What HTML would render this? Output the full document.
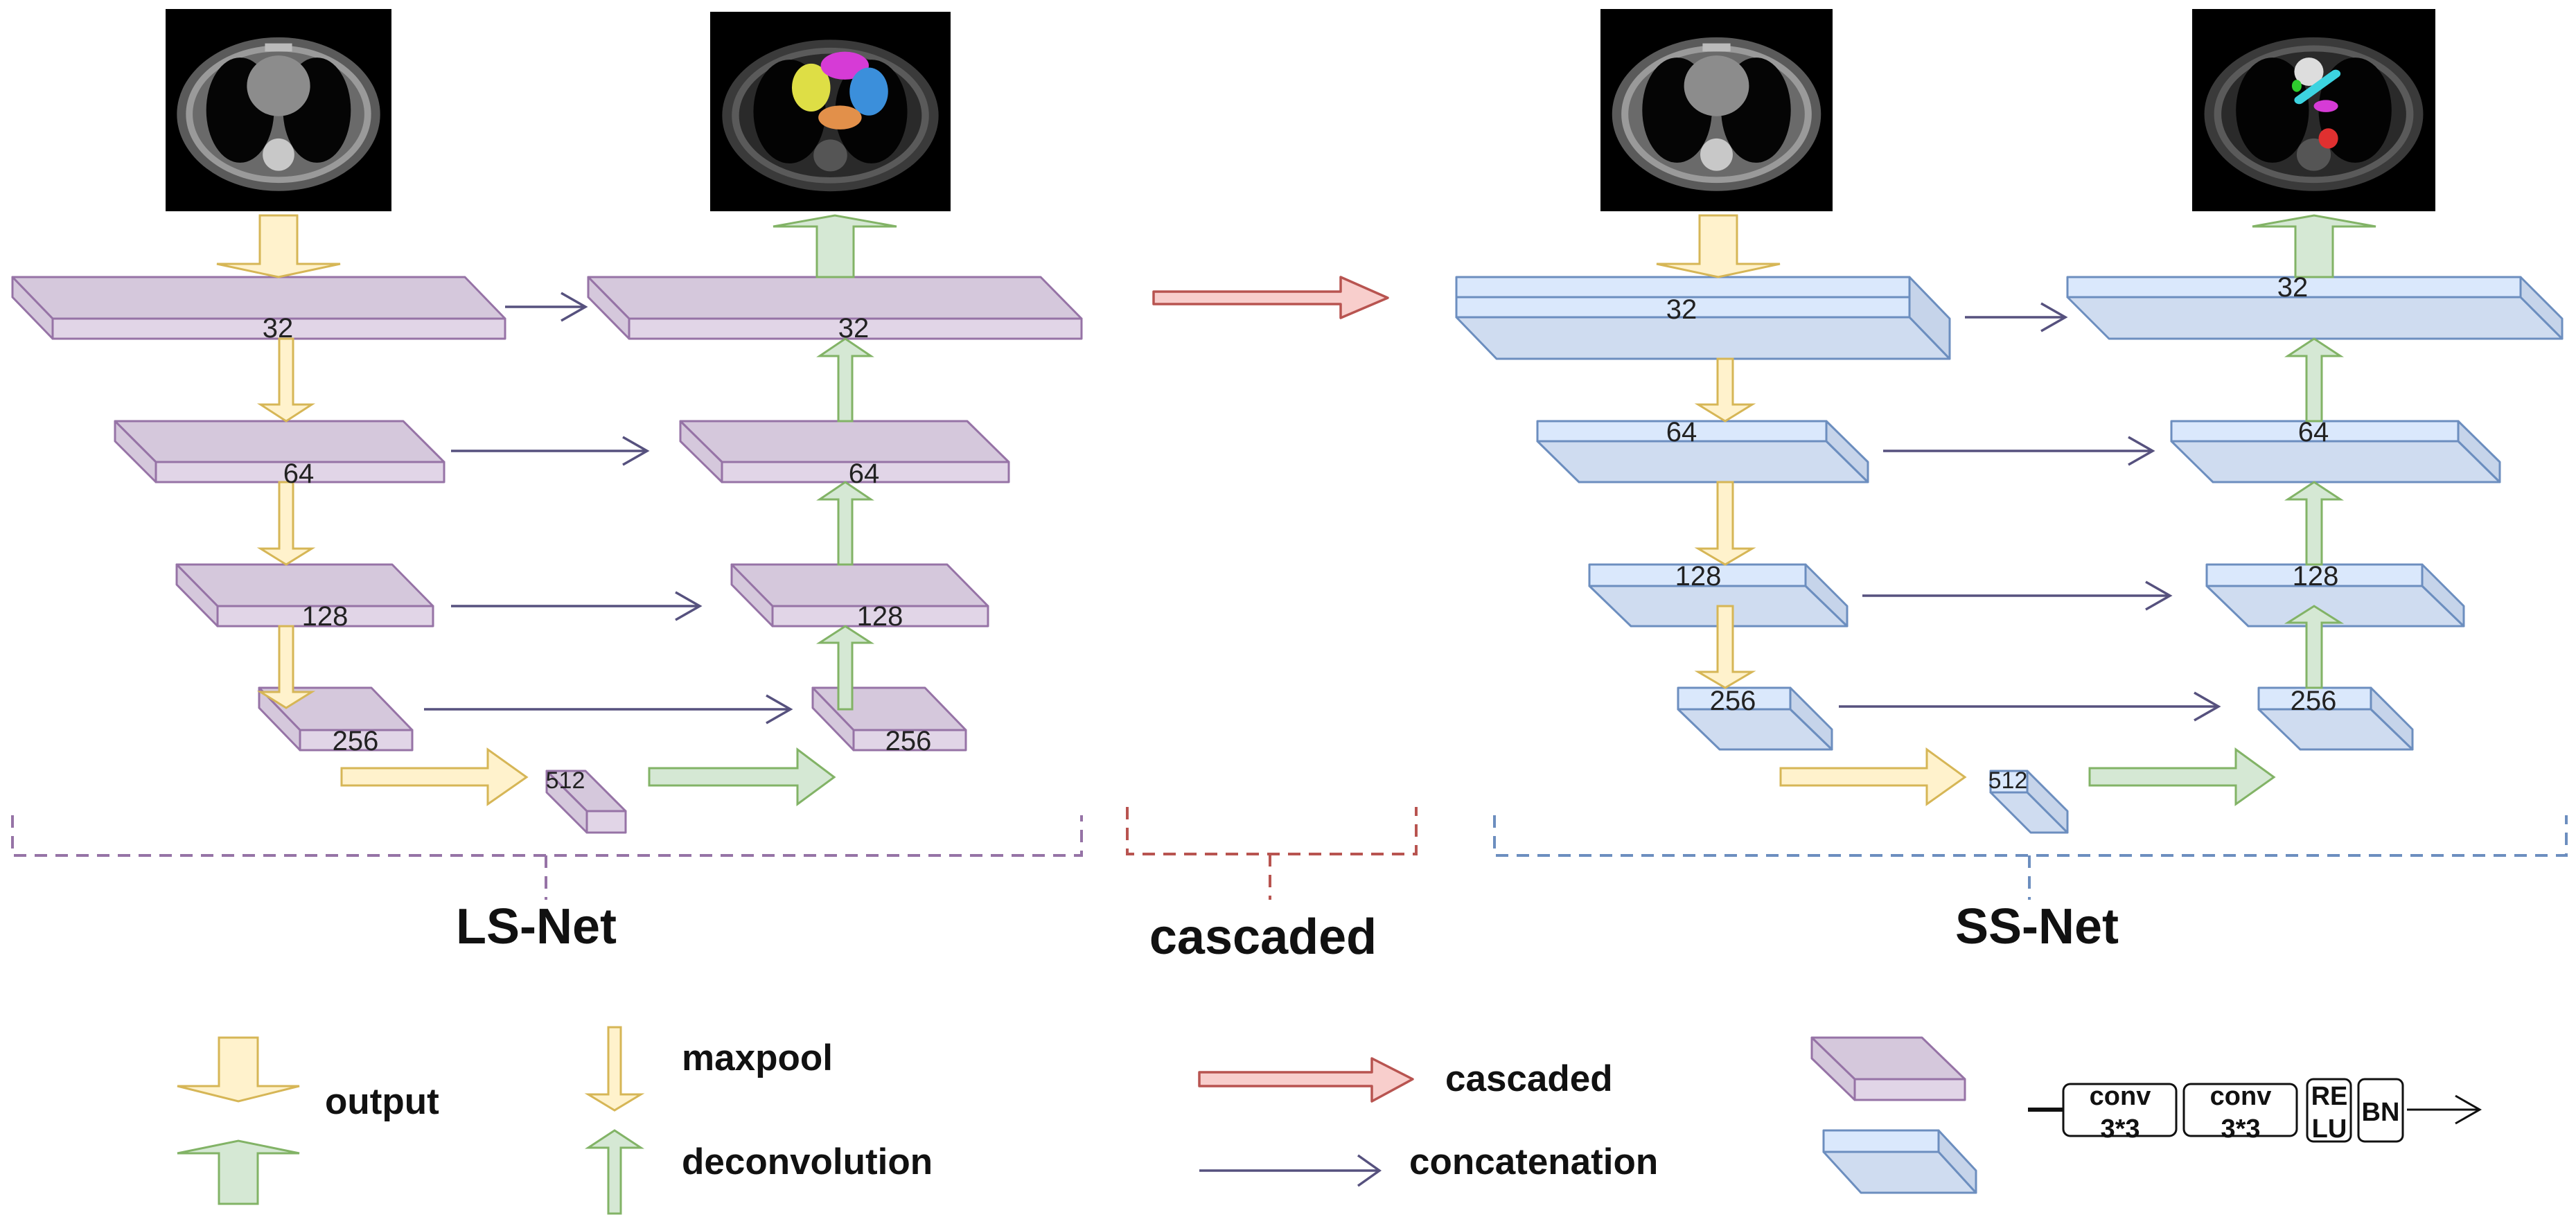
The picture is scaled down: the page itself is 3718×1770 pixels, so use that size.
<!DOCTYPE html>
<html><head><meta charset="utf-8"><style>
html,body{margin:0;padding:0;background:#fff;}
svg{display:block;}
text{font-family:"Liberation Sans",Arial,sans-serif;}
</style></head><body>
<svg width="3718" height="1770" viewBox="0 0 3718 1770" xmlns="http://www.w3.org/2000/svg">
<defs>
<g id="ct">
  <rect x="0" y="0" width="100" height="100" fill="#000"/>
  <ellipse cx="50" cy="52" rx="45" ry="38" fill="#5a5a5a"/>
  <ellipse cx="50" cy="52" rx="41" ry="34" fill="#9a9a9a"/>
  <ellipse cx="50" cy="52" rx="38" ry="31" fill="#6a6a6a"/>
  <ellipse cx="33" cy="50" rx="15" ry="26" fill="#050505"/>
  <ellipse cx="67" cy="50" rx="15" ry="26" fill="#050505"/>
  <ellipse cx="50" cy="38" rx="14" ry="15" fill="#8c8c8c"/>
  <ellipse cx="50" cy="72" rx="7" ry="8" fill="#c8c8c8"/>
  <rect x="44" y="17" width="12" height="4" fill="#bbb"/>
</g>
<g id="ctd">
  <rect x="0" y="0" width="100" height="100" fill="#000"/>
  <ellipse cx="50" cy="52" rx="45" ry="38" fill="#3a3a3a"/>
  <ellipse cx="50" cy="52" rx="41" ry="34" fill="#5a5a5a"/>
  <ellipse cx="50" cy="52" rx="38" ry="31" fill="#2a2a2a"/>
  <ellipse cx="33" cy="50" rx="15" ry="26" fill="#030303"/>
  <ellipse cx="67" cy="50" rx="15" ry="26" fill="#030303"/>
  <ellipse cx="50" cy="72" rx="7" ry="8" fill="#555"/>
</g>
</defs>

<!-- CT images -->
<svg x="239" y="13" width="326" height="292" viewBox="0 0 100 100" preserveAspectRatio="none"><use href="#ct"/></svg>
<svg x="1025" y="17" width="347" height="288" viewBox="0 0 100 100" preserveAspectRatio="none"><use href="#ctd"/>
  <ellipse cx="42" cy="38" rx="8" ry="12" fill="#dede45"/>
  <ellipse cx="56" cy="27" rx="10" ry="7" fill="#d63bd6"/>
  <ellipse cx="66" cy="40" rx="8" ry="12" fill="#3b8fdb"/>
  <ellipse cx="54" cy="53" rx="9" ry="6" fill="#e2904a"/>
</svg>
<svg x="2310" y="13" width="335" height="292" viewBox="0 0 100 100" preserveAspectRatio="none"><use href="#ct"/></svg>
<svg x="3164" y="13" width="351" height="292" viewBox="0 0 100 100" preserveAspectRatio="none"><use href="#ctd"/>
  <ellipse cx="48" cy="31" rx="6" ry="7" fill="#ddd"/>
  <line x1="44" y1="45" x2="59" y2="32" stroke="#3cd3e0" stroke-width="4" stroke-linecap="round"/>
  <ellipse cx="43" cy="38" rx="2" ry="3" fill="#2ecc2e"/>
  <ellipse cx="55" cy="48" rx="5" ry="3" fill="#d63bd6"/>
  <ellipse cx="56" cy="64" rx="4" ry="5" fill="#e03030"/>
</svg>

<!-- Purple boxes (LS-Net) -->
<g stroke="#9673a6" stroke-width="3" stroke-linejoin="round">
  <!-- 32L -->
  <polygon points="18,400 671,400 729,460 76,460" fill="#d5c8dc"/>
  <polygon points="18,400 76,460 76,489 18,429" fill="#d5c8dc"/>
  <rect x="76" y="460" width="653" height="29" fill="#e1d5e7"/>
  <!-- 32R -->
  <polygon points="849,400 1502,400 1561,460 908,460" fill="#d5c8dc"/>
  <polygon points="849,400 908,460 908,489 849,429" fill="#d5c8dc"/>
  <rect x="908" y="460" width="653" height="29" fill="#e1d5e7"/>
  <!-- 64L -->
  <polygon points="166,608 582,608 641,667 225,667" fill="#d5c8dc"/>
  <polygon points="166,608 225,667 225,696 166,637" fill="#d5c8dc"/>
  <rect x="225" y="667" width="416" height="29" fill="#e1d5e7"/>
  <!-- 64R -->
  <polygon points="982,608 1396,608 1456,667 1042,667" fill="#d5c8dc"/>
  <polygon points="982,608 1042,667 1042,696 982,637" fill="#d5c8dc"/>
  <rect x="1042" y="667" width="414" height="29" fill="#e1d5e7"/>
  <!-- 128L -->
  <polygon points="255,815 566,815 625,875 314,875" fill="#d5c8dc"/>
  <polygon points="255,815 314,875 314,904 255,844" fill="#d5c8dc"/>
  <rect x="314" y="875" width="311" height="29" fill="#e1d5e7"/>
  <!-- 128R -->
  <polygon points="1056,815 1367,815 1426,875 1115,875" fill="#d5c8dc"/>
  <polygon points="1056,815 1115,875 1115,904 1056,844" fill="#d5c8dc"/>
  <rect x="1115" y="875" width="311" height="29" fill="#e1d5e7"/>
  <!-- 256L -->
  <polygon points="374,993 536,993 595,1054 433,1054" fill="#d5c8dc"/>
  <polygon points="374,993 433,1054 433,1083 374,1022" fill="#d5c8dc"/>
  <rect x="433" y="1054" width="162" height="29" fill="#e1d5e7"/>
  <!-- 256R -->
  <polygon points="1173,993 1335,993 1394,1054 1232,1054" fill="#d5c8dc"/>
  <polygon points="1173,993 1232,1054 1232,1083 1173,1022" fill="#d5c8dc"/>
  <rect x="1232" y="1054" width="162" height="29" fill="#e1d5e7"/>
  <!-- 512L -->
  <polygon points="789,1113 845,1113 903,1171 847,1171" fill="#d5c8dc"/>
  <polygon points="789,1113 847,1171 847,1202 789,1144" fill="#d5c8dc"/>
  <rect x="847" y="1171" width="56" height="31" fill="#e1d5e7"/>
  <!-- legend purple -->
  <polygon points="2615,1498 2774,1498 2836,1558 2677,1558" fill="#d5c8dc"/>
  <polygon points="2615,1498 2677,1558 2677,1588 2615,1528" fill="#d5c8dc"/>
  <rect x="2677" y="1558" width="159" height="30" fill="#e1d5e7"/>
</g>

<!-- Blue boxes (SS-Net) -->
<g stroke="#6c8ebf" stroke-width="3" stroke-linejoin="round">
  <!-- 32L -->
  <polygon points="2102,458 2756,458 2814,518 2160,518" fill="#cfdcf0"/>
  <polygon points="2756,400 2814,460 2814,518 2756,458" fill="#c6d4ea"/>
  <rect x="2102" y="400" width="654" height="29" fill="#dae8fc"/>
  <rect x="2102" y="429" width="654" height="29" fill="#dae8fc"/>
  <!-- 32R -->
  <polygon points="2984,429 3638,429 3698,489 3044,489" fill="#cfdcf0"/>
  <polygon points="3638,400 3698,460 3698,489 3638,429" fill="#c6d4ea"/>
  <rect x="2984" y="400" width="654" height="29" fill="#dae8fc"/>
  <!-- 64L -->
  <polygon points="2219,637 2636,637 2696,696 2279,696" fill="#cfdcf0"/>
  <polygon points="2636,608 2696,667 2696,696 2636,637" fill="#c6d4ea"/>
  <rect x="2219" y="608" width="417" height="29" fill="#dae8fc"/>
  <!-- 64R -->
  <polygon points="3134,637 3548,637 3608,696 3194,696" fill="#cfdcf0"/>
  <polygon points="3548,608 3608,667 3608,696 3548,637" fill="#c6d4ea"/>
  <rect x="3134" y="608" width="414" height="29" fill="#dae8fc"/>
  <!-- 128L -->
  <polygon points="2294,846 2606,846 2666,904 2354,904" fill="#cfdcf0"/>
  <polygon points="2606,815 2666,875 2666,904 2606,846" fill="#c6d4ea"/>
  <rect x="2294" y="815" width="312" height="31" fill="#dae8fc"/>
  <!-- 128R -->
  <polygon points="3185,846 3496,846 3556,904 3245,904" fill="#cfdcf0"/>
  <polygon points="3496,815 3556,875 3556,904 3496,846" fill="#c6d4ea"/>
  <rect x="3185" y="815" width="311" height="31" fill="#dae8fc"/>
  <!-- 256L -->
  <polygon points="2422,1024 2584,1024 2644,1082 2482,1082" fill="#cfdcf0"/>
  <polygon points="2584,993 2644,1053 2644,1082 2584,1024" fill="#c6d4ea"/>
  <rect x="2422" y="993" width="162" height="31" fill="#dae8fc"/>
  <!-- 256R -->
  <polygon points="3260,1024 3422,1024 3482,1082 3320,1082" fill="#cfdcf0"/>
  <polygon points="3422,993 3482,1053 3482,1082 3422,1024" fill="#c6d4ea"/>
  <rect x="3260" y="993" width="162" height="31" fill="#dae8fc"/>
  <!-- 512R -->
  <polygon points="2873,1144 2926,1144 2984,1202 2931,1202" fill="#cfdcf0"/>
  <polygon points="2926,1113 2984,1171 2984,1202 2926,1144" fill="#c6d4ea"/>
  <rect x="2873" y="1113" width="53" height="31" fill="#dae8fc"/>
  <!-- legend blue -->
  <polygon points="2632,1663 2798,1663 2852,1722 2686,1722" fill="#cfdcf0"/>
  <polygon points="2798,1632 2852,1690 2852,1722 2798,1663" fill="#c6d4ea"/>
  <rect x="2632" y="1632" width="166" height="31" fill="#dae8fc"/>
</g>

<!-- Yellow arrows -->
<g fill="#fff2cc" stroke="#d6b656" stroke-width="3" stroke-linejoin="miter">
  <polygon points="375,311 429,311 429,381 491,381 402,400 313,381 375,381"/>
  <polygon points="403,489 423,489 423,584 450,584 413,608 376,584 403,584"/>
  <polygon points="403,696 423,696 423,792 450,792 413,815 376,792 403,792"/>
  <polygon points="403,904 423,904 423,999 450,999 413,1022 376,999 403,999"/>
  <polygon points="493,1109 704,1109 704,1082 760,1122 704,1161 704,1134 493,1134"/>
  <polygon points="2453,311 2507,311 2507,381 2569,381 2480,400 2391,381 2453,381"/>
  <polygon points="2479,518 2501,518 2501,584 2529,584 2490,608 2451,584 2479,584"/>
  <polygon points="2479,696 2501,696 2501,792 2529,792 2490,815 2451,792 2479,792"/>
  <polygon points="2479,875 2501,875 2501,970 2529,970 2490,993 2451,970 2479,970"/>
  <polygon points="2570,1109 2781,1109 2781,1082 2836,1122 2781,1161 2781,1134 2570,1134"/>
  <!-- legend -->
  <polygon points="316,1498 372,1498 372,1568 432,1568 344,1590 256,1568 316,1568"/>
  <polygon points="878,1483 896,1483 896,1580 925,1580 887,1603 849,1580 878,1580"/>
</g>

<!-- Green arrows -->
<g fill="#d5e8d4" stroke="#82b366" stroke-width="3" stroke-linejoin="miter">
  <polygon points="1179,400 1232,400 1232,327 1294,327 1205,311 1116,327 1179,327"/>
  <polygon points="1210,608 1230,608 1230,514 1257,514 1220,489 1183,514 1210,514"/>
  <polygon points="1210,815 1230,815 1230,721 1257,721 1220,696 1183,721 1210,721"/>
  <polygon points="1210,1024 1230,1024 1230,928 1257,928 1220,904 1183,928 1210,928"/>
  <polygon points="937,1109 1151,1109 1151,1082 1204,1122 1151,1161 1151,1134 937,1134"/>
  <polygon points="3313,400 3367,400 3367,327 3429,327 3340,311 3251,327 3313,327"/>
  <polygon points="3329,608 3351,608 3351,514 3378,514 3340,489 3302,514 3329,514"/>
  <polygon points="3329,815 3351,815 3351,721 3378,721 3340,696 3302,721 3329,721"/>
  <polygon points="3329,993 3351,993 3351,899 3378,899 3340,875 3302,899 3329,899"/>
  <polygon points="3016,1109 3227,1109 3227,1082 3282,1122 3227,1161 3227,1134 3016,1134"/>
  <!-- legend -->
  <polygon points="316,1738 372,1738 372,1665 432,1665 344,1647 256,1665 316,1665"/>
  <polygon points="878,1752 896,1752 896,1657 925,1657 887,1632 849,1657 878,1657"/>
</g>

<!-- Red arrows -->
<g fill="#f8cecc" stroke="#b85450" stroke-width="3.5" stroke-linejoin="round">
  <polygon points="1665,421 1935,421 1935,400 2003,430 1935,459 1935,439 1665,439"/>
  <polygon points="1731,1548 1980,1548 1980,1528 2039,1558 1980,1590 1980,1568 1731,1568"/>
</g>

<!-- Concatenation arrows -->
<g fill="none" stroke="#56517e" stroke-width="3.5">
  <line x1="729" y1="443" x2="845" y2="443"/><polyline points="810,423 845,443 810,463"/>
  <line x1="651" y1="651" x2="934" y2="651"/><polyline points="899,631 934,651 899,671"/>
  <line x1="651" y1="875" x2="1010" y2="875"/><polyline points="975,855 1010,875 975,895"/>
  <line x1="612" y1="1024" x2="1141" y2="1024"/><polyline points="1106,1004 1141,1024 1106,1044"/>
  <line x1="2836" y1="458" x2="2981" y2="458"/><polyline points="2946,438 2981,458 2946,478"/>
  <line x1="2718" y1="651" x2="3107" y2="651"/><polyline points="3072,631 3107,651 3072,671"/>
  <line x1="2688" y1="860" x2="3132" y2="860"/><polyline points="3097,840 3132,860 3097,880"/>
  <line x1="2654" y1="1020" x2="3202" y2="1020"/><polyline points="3167,1000 3202,1020 3167,1040"/>
  <line x1="1731" y1="1690" x2="1991" y2="1690"/><polyline points="1960,1668 1991,1690 1960,1712"/>
</g>

<!-- Box labels -->
<g font-size="40" fill="#222" text-anchor="middle" dominant-baseline="central">
  <text x="401" y="474">32</text>
  <text x="1232" y="474">32</text>
  <text x="431" y="684">64</text>
  <text x="1247" y="684">64</text>
  <text x="469" y="890">128</text>
  <text x="1270" y="890">128</text>
  <text x="513" y="1070">256</text>
  <text x="1311" y="1070">256</text>
  <text x="816" y="1127" font-size="34">512</text>
  <text x="2427" y="447">32</text>
  <text x="3309" y="415">32</text>
  <text x="2427" y="624">64</text>
  <text x="3339" y="624">64</text>
  <text x="2451" y="832">128</text>
  <text x="3342" y="832">128</text>
  <text x="2501" y="1012">256</text>
  <text x="3339" y="1012">256</text>
  <text x="2898" y="1127" font-size="34">512</text>
</g>

<!-- Brackets -->
<g fill="none" stroke-width="4" stroke-dasharray="18,12">
  <polyline stroke="#9673a6" points="18,1177 18,1235 1561,1235 1561,1177"/>
  <line stroke="#9673a6" x1="788" y1="1235" x2="788" y2="1299"/>
  <polyline stroke="#b85450" points="1627,1165 1627,1233 2044,1233 2044,1165"/>
  <line stroke="#b85450" x1="1833" y1="1233" x2="1833" y2="1299"/>
  <polyline stroke="#6c8ebf" points="2157,1177 2157,1235 3704,1235 3704,1177"/>
  <line stroke="#6c8ebf" x1="2929" y1="1235" x2="2929" y2="1299"/>
</g>

<!-- Titles -->
<g font-size="72" font-weight="bold" fill="#111" text-anchor="middle">
  <text x="774" y="1362">LS-Net</text>
  <text x="1823" y="1377">cascaded</text>
  <text x="2940" y="1362">SS-Net</text>
</g>

<!-- Legend text -->
<g font-size="53" font-weight="bold" fill="#111">
  <text x="469" y="1608">output</text>
  <text x="984" y="1545">maxpool</text>
  <text x="984" y="1695">deconvolution</text>
  <text x="2086" y="1575">cascaded</text>
  <text x="2034" y="1695">concatenation</text>
</g>

<!-- conv block legend -->
<g fill="none" stroke="#111">
  <line x1="2927" y1="1602" x2="2978" y2="1602" stroke-width="6"/>
  <rect x="2978" y="1565" width="163" height="75" rx="10" stroke-width="3"/>
  <rect x="3152" y="1565" width="163" height="75" rx="10" stroke-width="3"/>
  <rect x="3330" y="1558" width="63" height="90" rx="9" stroke-width="3"/>
  <rect x="3404" y="1558" width="64" height="90" rx="9" stroke-width="3"/>
  <line x1="3474" y1="1602" x2="3579" y2="1602" stroke-width="3"/>
  <polyline points="3544,1582 3579,1602 3544,1622" stroke-width="3"/>
</g>
<g font-size="38" font-weight="bold" fill="#111" text-anchor="middle">
  <text x="3060" y="1595">conv</text>
  <text x="3060" y="1642">3*3</text>
  <text x="3234" y="1595">conv</text>
  <text x="3234" y="1642">3*3</text>
  <text x="3362" y="1595">RE</text>
  <text x="3362" y="1642">LU</text>
  <text x="3436" y="1618">BN</text>
</g>
</svg>
</body></html>
